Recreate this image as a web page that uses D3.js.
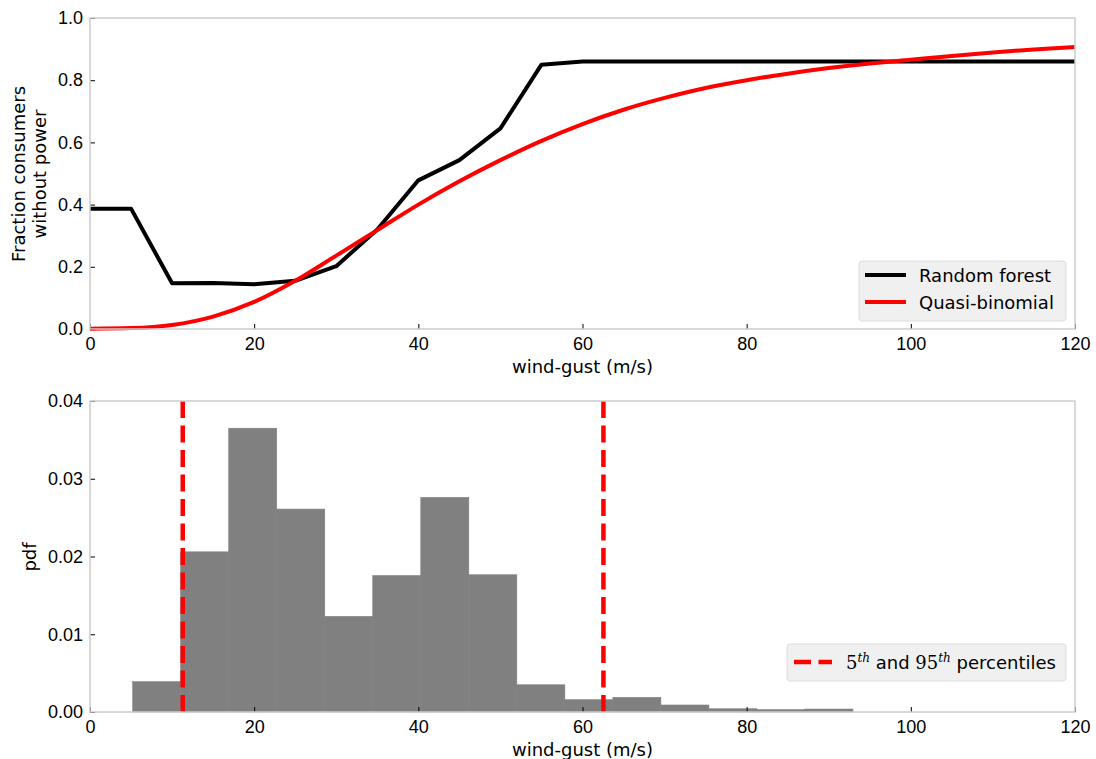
<!DOCTYPE html>
<html>
<head>
<meta charset="utf-8">
<title>Wind gust and outages</title>
<script src="https://d3js.org/d3.v7.min.js"></script>
<style>
  body { margin: 0; background: #fff; }
  svg { display: block; font-family: "DejaVu Sans", sans-serif; }
  .tick text { font-size: 18px; fill: #000; }
  .tick line { stroke: #000; stroke-width: 1; }
</style>
</head>
<body>
<svg id="chart" width="1096" height="759"></svg>
<script>
// random forest curve (wind-gust vs fraction)
const rfX = [0, 5, 10, 15, 20, 25, 30, 35, 40, 45, 50, 55, 60, 65, 70, 75, 80, 85, 90, 95, 100, 105, 110, 115, 120]
const rfY = [0.387, 0.387, 0.147, 0.148, 0.144, 0.155, 0.202, 0.32, 0.478, 0.543, 0.645, 0.85, 0.86, 0.86, 0.86, 0.86, 0.86, 0.86, 0.86, 0.86, 0.86, 0.86, 0.86, 0.86, 0.86]

// quasi-binomial fit
const qbX = [0, 5, 10, 15, 20, 25, 30, 35, 40, 45, 50, 55, 60, 65, 70, 75, 80, 85, 90, 95, 100, 105, 110, 115, 120]
const qbY = [0.001, 0.003, 0.013, 0.04, 0.087, 0.155, 0.236, 0.318, 0.4, 0.475, 0.543, 0.605, 0.659, 0.705, 0.743, 0.775, 0.8, 0.821, 0.839, 0.854, 0.866, 0.878, 0.889, 0.899, 0.907]

// histogram of wind gust
const binEdges = [5.2, 11.05, 16.9, 22.75, 28.6, 34.45, 40.3, 46.15, 52.0, 57.85, 63.7, 69.55, 75.4, 81.25, 87.1, 92.95]
const pdfVals = [0.0039, 0.0206, 0.0365, 0.0261, 0.0123, 0.01755, 0.0276, 0.01765, 0.0035, 0.00158, 0.00188, 0.0009, 0.00042, 0.0003, 0.00038]
const percentiles = [11.3, 62.55]

const xTicks = [0, 20, 40, 60, 80, 100, 120]
const yTicksTop = [0, 0.2, 0.4, 0.6, 0.8, 1.0]
const yTicksBot = [0, 0.01, 0.02, 0.03, 0.04]

const svg = d3.select("#chart")
const left = 90, right = 1075

const x = d3.scaleLinear().domain([0, 120]).range([left, right])
const yTop = d3.scaleLinear().domain([0, 1]).range([329, 18])
const yBot = d3.scaleLinear().domain([0, 0.04]).range([712, 401])

function axes(g, y, yTicks, yFmt) {
    const x0 = y.range()[0]
    g.append("g")
        .attr("transform", "translate(0," + x0 + ")")
        .call(d3.axisBottom(x).tickValues(xTicks).tickFormat(d3.format("d"))
            .tickSizeInner(-5).tickSizeOuter(0).tickPadding(8))
        .call(a => a.select(".domain").remove())
    g.append("g")
        .attr("transform", "translate(" + left + ",0)")
        .call(d3.axisLeft(y).tickValues(yTicks).tickFormat(yFmt)
            .tickSizeInner(-5).tickSizeOuter(0).tickPadding(7))
        .call(a => a.select(".domain").remove())
}

function frame(y) {
    svg.append("rect")
        .attr("x", left).attr("y", y.range()[1])
        .attr("width", right - left).attr("height", y.range()[0] - y.range()[1])
        .attr("fill", "none").attr("stroke", "#cccccc").attr("stroke-width", 1.5)
}

// ---- top panel
const gTop = svg.append("g")
const line = (xs, ys) => d3.line().x((d, i) => x(xs[i])).y((d, i) => yTop(ys[i]))

gTop.append("path")
    .attr("d", line(rfX, rfY)(rfX))
    .attr("fill", "none").attr("stroke", "#000").attr("stroke-width", 4)
    .attr("stroke-linejoin", "round")
gTop.append("path")
    .attr("d", line(qbX, qbY).curve(d3.curveMonotoneX)(qbX))
    .attr("fill", "none").attr("stroke", "#ff0000").attr("stroke-width", 4)

frame(yTop)
axes(gTop, yTop, yTicksTop, d3.format(".1f"))

gTop.append("text").attr("x", (left + right) / 2).attr("y", 373)
    .attr("text-anchor", "middle").attr("font-size", 18).text("wind-gust (m/s)")
const yl = gTop.append("text").attr("transform", "translate(25,174) rotate(-90)")
    .attr("text-anchor", "middle").attr("font-size", 18)
yl.append("tspan").attr("x", 0).attr("dy", 0).text("Fraction consumers")
yl.append("tspan").attr("x", 0).attr("dy", 21).text("without power")

// legend top
const lg = gTop.append("g")
lg.append("rect").attr("x", 859).attr("y", 261).attr("width", 207).attr("height", 60)
    .attr("rx", 3).attr("fill", "#f0f0f0").attr("stroke", "#dcdcdc")
const legItems = [["Random forest", "#000"], ["Quasi-binomial", "#ff0000"]]
legItems.forEach((d, i) => {
    const yy = 275 + i * 27
    lg.append("line").attr("x1", 865).attr("x2", 906).attr("y1", yy).attr("y2", yy)
        .attr("stroke", d[1]).attr("stroke-width", 4)
    lg.append("text").attr("x", 919).attr("y", yy + 6.5).attr("font-size", 18).text(d[0])
})

// ---- bottom panel
const gBot = svg.append("g")
gBot.selectAll("rect.bar")
    .data(pdfVals)
    .enter()
    .append("rect")
    .attr("class", "bar")
    .attr("x", (d, i) => x(binEdges[i]))
    .attr("width", (d, i) => x(binEdges[i + 1]) - x(binEdges[i]))
    .attr("y", d => yBot(d))
    .attr("height", d => yBot(0) - yBot(d))
    .attr("fill", "#808080")
    .attr("stroke", "#808080").attr("stroke-width", 0.6)

gBot.selectAll("line.pct")
    .data(percentiles)
    .enter()
    .append("line")
    .attr("class", "pct")
    .attr("x1", d => x(d)).attr("x2", d => x(d))
    .attr("y1", yBot(0)).attr("y2", yBot(0.04))
    .attr("stroke", "#ff0000").attr("stroke-width", 4.5)
    .attr("stroke-dasharray", "17,7.5")

frame(yBot)
axes(gBot, yBot, yTicksBot, d3.format(".2f"))

gBot.append("text").attr("x", (left + right) / 2).attr("y", 756)
    .attr("text-anchor", "middle").attr("font-size", 18).text("wind-gust (m/s)")
gBot.append("text").attr("transform", "translate(36,557) rotate(-90)")
    .attr("text-anchor", "middle").attr("font-size", 18).text("pdf")

// legend bottom
const lb = gBot.append("g")
lb.append("rect").attr("x", 787).attr("y", 644).attr("width", 279).attr("height", 37)
    .attr("rx", 3).attr("fill", "#f0f0f0").attr("stroke", "#dcdcdc")
lb.append("line").attr("x1", 794).attr("x2", 832).attr("y1", 662).attr("y2", 662)
    .attr("stroke", "#ff0000").attr("stroke-width", 4.5).attr("stroke-dasharray", "17,7.5")
const lt = lb.append("text").attr("x", 846).attr("y", 668.5).attr("font-size", 18)
lt.append("tspan").attr("font-family", "DejaVu Serif").text("5")
lt.append("tspan").attr("font-family", "DejaVu Serif").attr("font-style", "italic")
    .attr("font-size", 12).attr("dy", -7).text("th")
lt.append("tspan").attr("dy", 7).text(" and ")
lt.append("tspan").attr("font-family", "DejaVu Serif").text("95")
lt.append("tspan").attr("font-family", "DejaVu Serif").attr("font-style", "italic")
    .attr("font-size", 12).attr("dy", -7).text("th")
lt.append("tspan").attr("dy", 7).text(" percentiles")
</script>
</body>
</html>
